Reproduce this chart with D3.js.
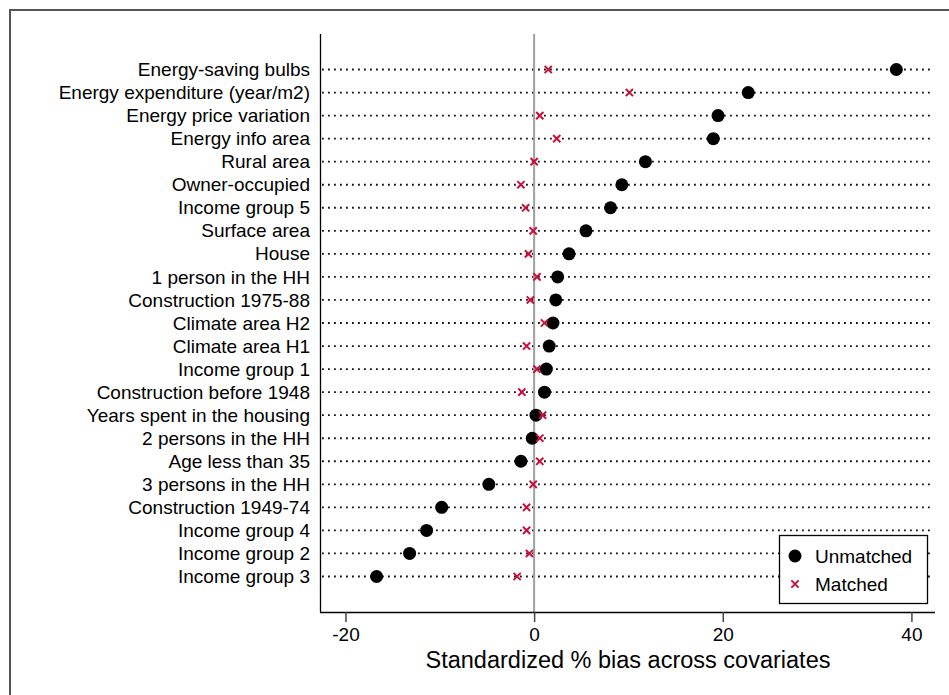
<!DOCTYPE html>
<html><head><meta charset="utf-8">
<script src="https://cdn.jsdelivr.net/npm/d3@7"></script>
<style>body{margin:0;background:#fff;} svg{display:block;font-family:"Liberation Sans",Arial,Helvetica,sans-serif;}</style>
</head><body>
<svg id="c" width="949" height="695"></svg>
<script>
const categories = ["Energy-saving bulbs","Energy expenditure (year/m2)","Energy price variation","Energy info area","Rural area","Owner-occupied","Income group 5","Surface area","House","1 person in the HH","Construction 1975-88","Climate area H2","Climate area H1","Income group 1","Construction before 1948","Years spent in the housing","2 persons in the HH","Age less than 35","3 persons in the HH","Construction 1949-74","Income group 4","Income group 2","Income group 3"];
const unmatched = [38.4,22.7,19.5,19.0,11.8,9.3,8.1,5.5,3.7,2.5,2.3,2.0,1.6,1.3,1.1,0.2,-0.2,-1.4,-4.8,-9.8,-11.4,-13.2,-16.7];
const matched = [1.5,10.1,0.6,2.4,0.0,-1.4,-0.9,-0.1,-0.6,0.3,-0.4,1.1,-0.8,0.3,-1.3,0.9,0.6,0.6,-0.1,-0.8,-0.8,-0.5,-1.8];
const xTicks = [-20,0,20,40];
const seriesNames = ["Unmatched","Matched"];

const svg = d3.select("#c");
const red = "#c8103b";
// outer frame
svg.append("path").attr("d","M10,700 L10,10 L955,10").attr("fill","none").attr("stroke","#555").attr("stroke-width",2);

const x = d3.scaleLinear().domain([-22.7,42.5]).range([320,935]);
const y = d3.scalePoint().domain(categories).range([69.5,576.5]);
const yTop = 34, yBottom = 612;

// dotted grid lines
svg.append("g").selectAll("line").data(categories).join("line")
  .attr("x1",322).attr("x2",931).attr("y1",d=>y(d)).attr("y2",d=>y(d))
  .attr("stroke","#111").attr("stroke-width",1.8).attr("stroke-dasharray","1.8,4.2");

// zero line
svg.append("line").attr("x1",x(0)).attr("x2",x(0)).attr("y1",yTop).attr("y2",yBottom)
  .attr("stroke","#a0a0a0").attr("stroke-width",2);

// y axis
const ya = svg.append("g").attr("transform","translate(320,0)")
  .call(d3.axisLeft(y).tickSize(0).tickPadding(10));
ya.select(".domain").remove();
ya.selectAll("text").attr("font-size",19).attr("fill","#000").attr("font-family","Liberation Sans, Arial, sans-serif");
svg.append("line").attr("x1",320.5).attr("x2",320.5).attr("y1",yTop).attr("y2",yBottom).attr("stroke","#000").attr("stroke-width",1.3);

// x axis
const xa = svg.append("g").attr("transform",`translate(0,${yBottom})`)
  .call(d3.axisBottom(x).tickValues(xTicks).tickSize(10).tickPadding(6).tickFormat(d => String(d)));
xa.select(".domain").attr("d",`M320,0.5H935`).attr("stroke","#000").attr("stroke-width",1.3);
xa.selectAll(".tick line").attr("stroke","#444").attr("stroke-width",1.5);
xa.selectAll("text").attr("font-size",19).attr("fill","#000").attr("font-family","Liberation Sans, Arial, sans-serif");

svg.append("text").attr("x",628).attr("y",668).attr("text-anchor","middle")
  .attr("font-size",23.5).text("Standardized % bias across covariates");

// markers
const crossPath = s => `M${-s},${-s}L${s},${s}M${-s},${s}L${s},${-s}`;
svg.append("g").selectAll("circle").data(categories).join("circle")
  .attr("cx",(d,i)=>x(unmatched[i])).attr("cy",d=>y(d)).attr("r",6.5).attr("fill","#000");
svg.append("g").selectAll("path").data(categories).join("path")
  .attr("transform",(d,i)=>`translate(${x(matched[i])},${y(d)})`)
  .attr("d",crossPath(3.6)).attr("stroke",red).attr("stroke-width",2).attr("fill","none");

// legend
const lg = svg.append("g");
lg.append("rect").attr("x",779.5).attr("y",535.5).attr("width",148).attr("height",68)
  .attr("fill","#fff").attr("stroke","#000").attr("stroke-width",1.3);
lg.append("circle").attr("cx",795).attr("cy",556).attr("r",6.5).attr("fill","#000");
lg.append("path").attr("transform","translate(795,584)").attr("d",crossPath(3.6)).attr("stroke",red).attr("stroke-width",2).attr("fill","none");
lg.selectAll("text").data(seriesNames).join("text")
  .attr("x",815).attr("y",(d,i)=>556+i*28).attr("dy","0.35em").attr("font-size",19).text(d=>d);
</script>
</body></html>
